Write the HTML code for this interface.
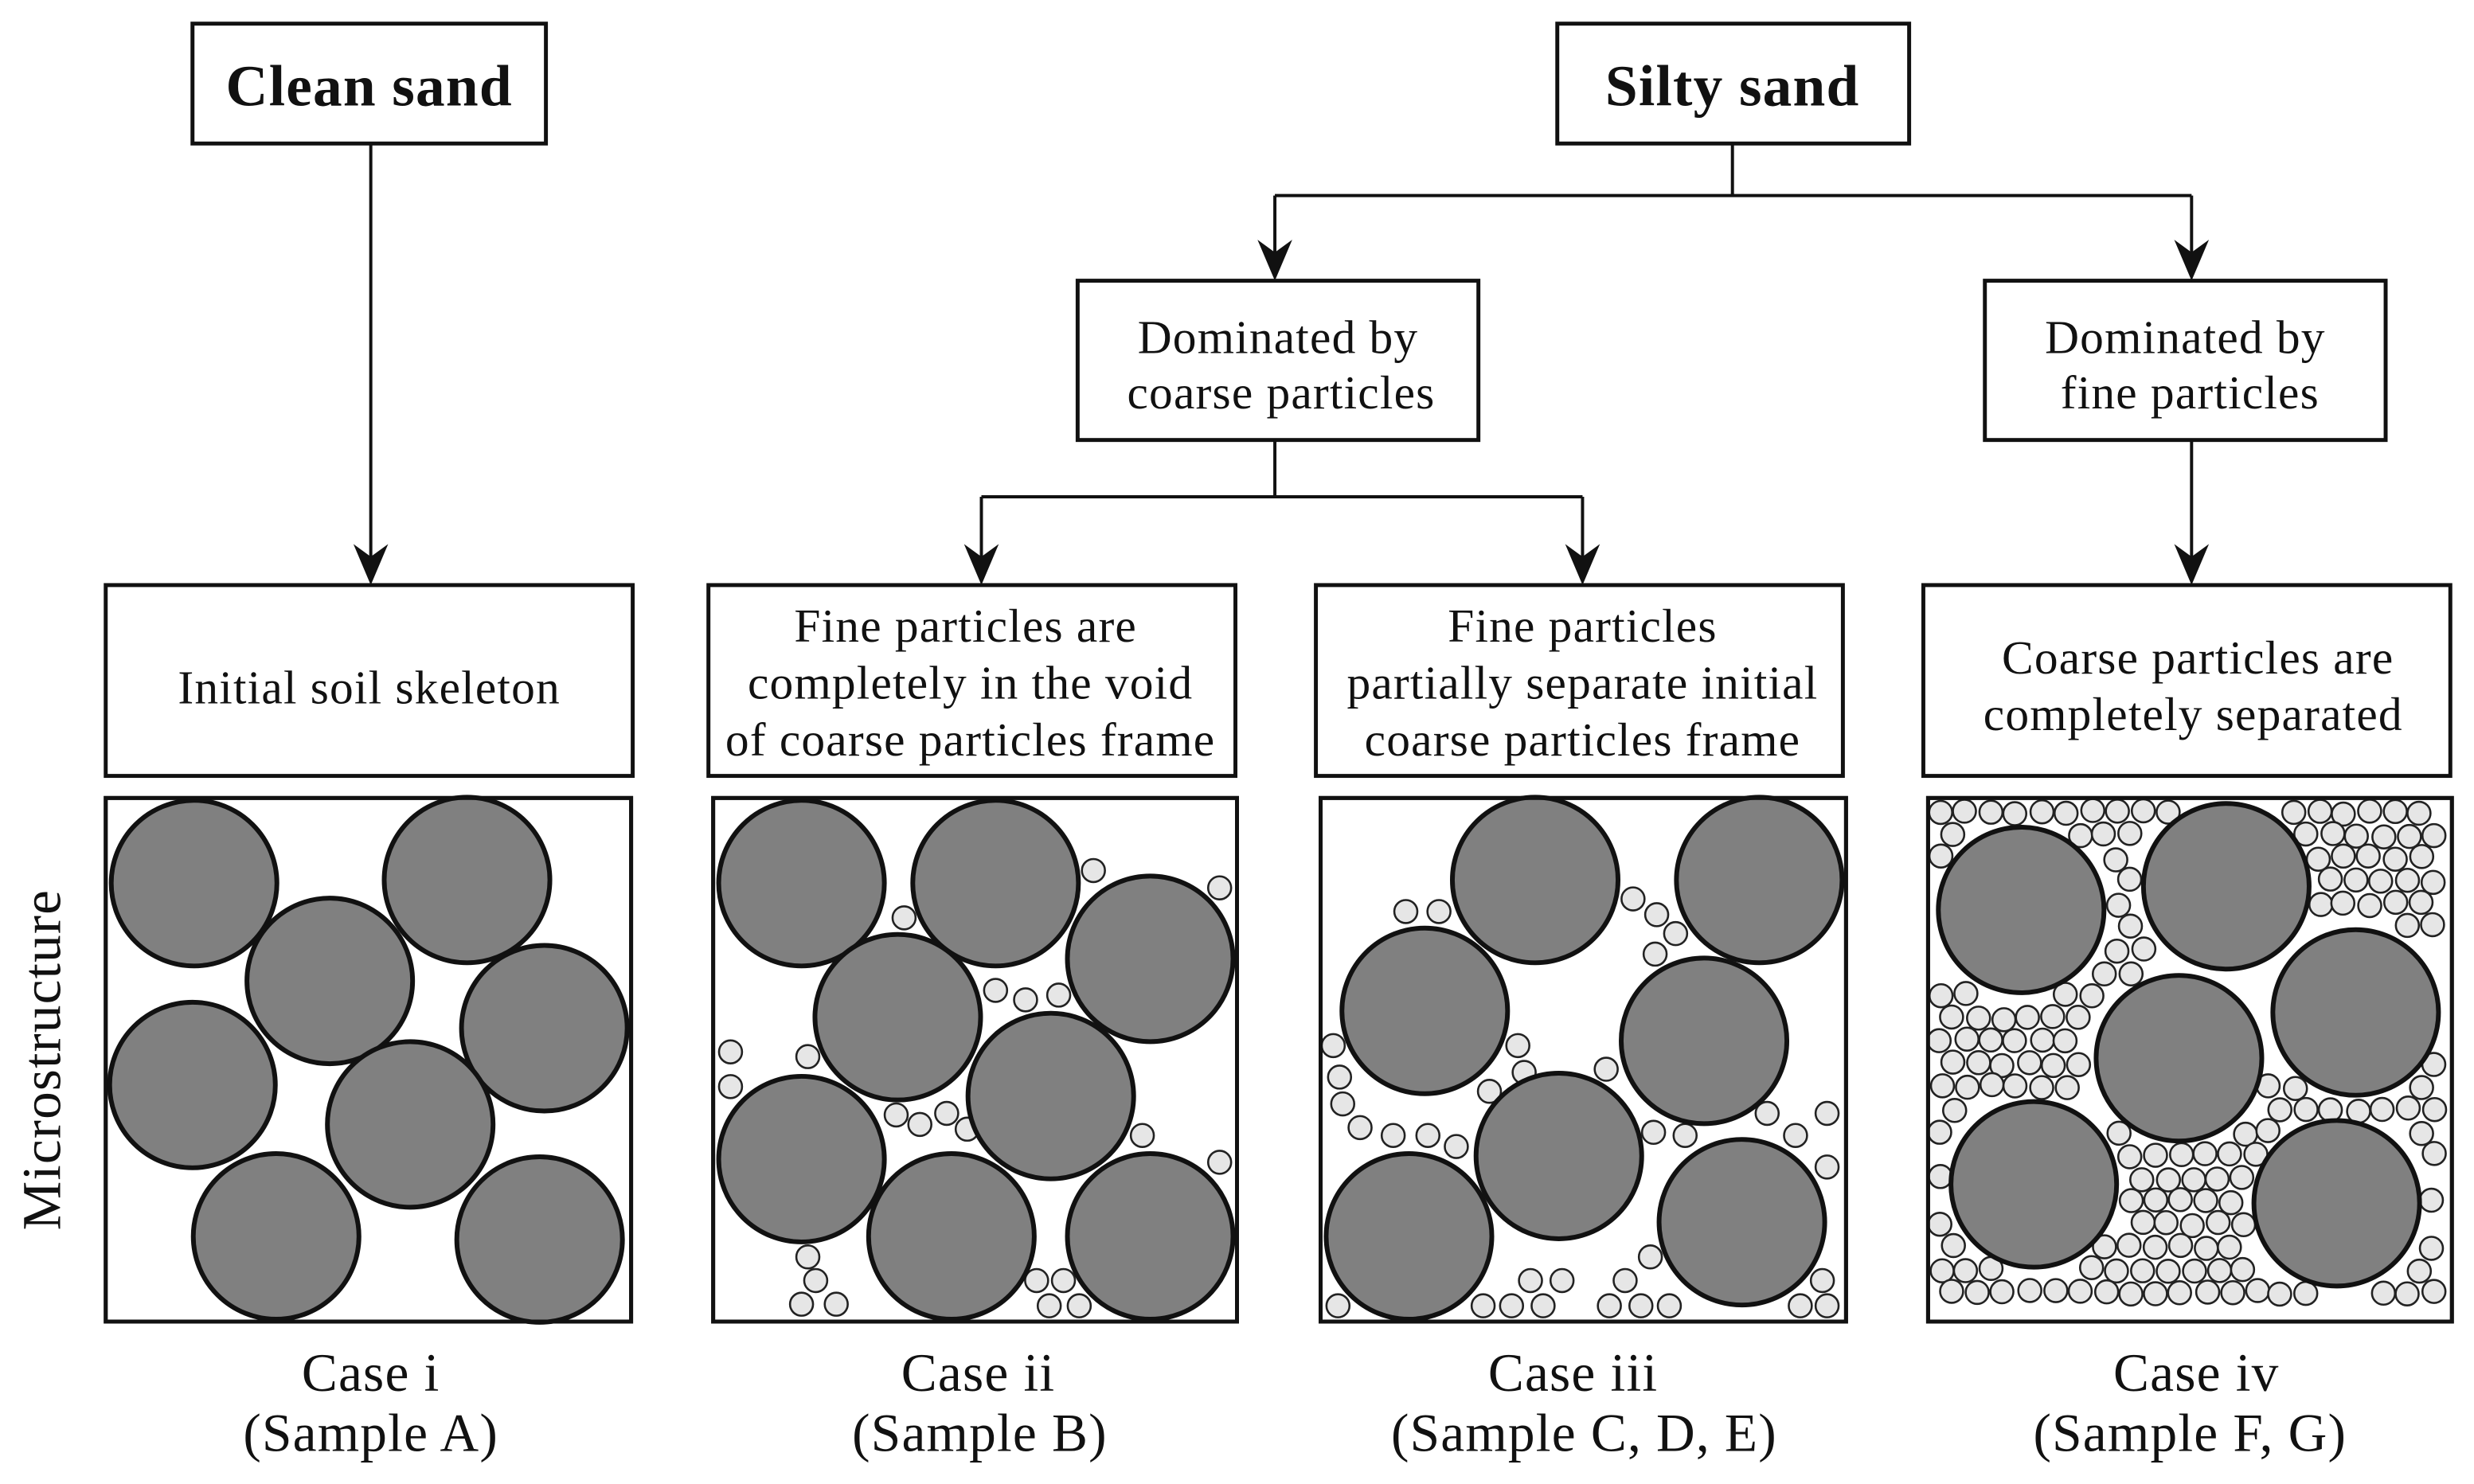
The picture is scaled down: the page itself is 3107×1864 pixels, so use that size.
<!DOCTYPE html>
<html><head><meta charset="utf-8"><style>
html,body{margin:0;padding:0;background:#fff}
svg{display:block}
text{font-family:"Liberation Serif",serif;fill:#111}
</style></head><body>
<svg id="s" width="3107" height="1864" viewBox="0 0 1568 941" preserveAspectRatio="none" xmlns="http://www.w3.org/2000/svg">
<rect x="0" y="0" width="1568" height="941" fill="#fff"/>
<g fill="none" stroke="#111" stroke-width="2.5">
<rect x="122" y="15" width="224" height="76"/>
<rect x="987" y="15" width="223" height="76"/>
<rect x="683" y="178" width="254" height="101"/>
<rect x="1258" y="178" width="254" height="101"/>
<rect x="67" y="371" width="334" height="121"/>
<rect x="449" y="371" width="334" height="121"/>
<rect x="834" y="371" width="334" height="121"/>
<rect x="1219" y="371" width="334" height="121"/>
</g>
<g stroke="#111" stroke-width="2" fill="none">
<line x1="235" y1="91" x2="235" y2="360"/>
<polyline points="1098,91 1098,124"/>
<line x1="808" y1="124" x2="1389" y2="124"/>
<line x1="808" y1="124" x2="808" y2="168"/>
<line x1="1389" y1="124" x2="1389" y2="168"/>
<polyline points="808,279 808,315"/>
<line x1="622" y1="315" x2="1003" y2="315"/>
<line x1="622" y1="315" x2="622" y2="360"/>
<line x1="1003" y1="315" x2="1003" y2="360"/>
<line x1="1389" y1="279" x2="1389" y2="360"/>
</g>
<g fill="#111">
<polygon points="235,371 224,345 235,353 246,345"/>
<polygon points="808,178 797,152 808,160 819,152"/>
<polygon points="1389,178 1378,152 1389,160 1400,152"/>
<polygon points="622,371 611,345 622,353 633,345"/>
<polygon points="1003,371 992,345 1003,353 1014,345"/>
<polygon points="1389,371 1378,345 1389,353 1400,345"/>
</g>
<g font-size="37" font-weight="bold" text-anchor="middle" letter-spacing="0.6">
<text x="234" y="67">Clean sand</text>
<text x="1098" y="67">Silty sand</text>
</g>
<g font-size="30" text-anchor="middle" letter-spacing="0.6">
<text x="810" y="224">Dominated by</text><text x="812" y="259">coarse particles</text>
<text x="1385" y="224">Dominated by</text><text x="1388" y="259">fine particles</text>
<text x="234" y="446">Initial soil skeleton</text>
<text x="612" y="407">Fine particles are</text><text x="615" y="443">completely in the void</text><text x="615" y="479">of coarse particles frame</text>
<text x="1003" y="407">Fine particles</text><text x="1003" y="443">partially separate initial</text><text x="1003" y="479">coarse particles frame</text>
<text x="1393" y="427">Coarse particles are</text><text x="1390" y="463">completely separated</text>
</g>
<g font-size="34" text-anchor="middle" letter-spacing="0.6">
<text x="235" y="882">Case i</text><text x="235" y="920">(Sample A)</text>
<text x="620" y="882">Case ii</text><text x="621" y="920">(Sample B)</text>
<text x="997" y="882">Case iii</text><text x="1004" y="920">(Sample C, D, E)</text>
<text x="1392" y="882">Case  iv</text><text x="1388" y="920">(Sample F, G)</text>
</g>
<text font-size="35" text-anchor="middle" letter-spacing="0.6" transform="translate(38,672) rotate(-90)">Microstructure</text>
<g id="g"></g>
</svg>
<script>
var NS="http://www.w3.org/2000/svg",g=document.getElementById("g");
function el(t,a){var e=document.createElementNS(NS,t);for(var k in a)e.setAttribute(k,a[k]);g.appendChild(e);}
var boxes=[[67,506,333,332],[452,506,332,332],[837,506,333,332],[1222,506,332,332]];
var big=[
[[123,560],[296,558],[209,622],[345,652],[122,688],[260,713],[175,784],[342,786]],
[[508,560],[631,560],[729,608],[569,645],[666,695],[508,735],[603,784],[729,784]],
[[973,558],[1115,558],[903,641],[1080,660],[988,733],[893,784],[1104,775]],
[[1281,577],[1411,562],[1493,642],[1381,671],[1289,751],[1481,763]]];
var small=[
[],
[[573,582],[693,552],[773,563],[631,628],[650,634],[671,631],[463,667],[463,689],[512,670],[568,707],[583,713],[600,706],[724,720],[773,737],[512,797],[508,827],[530,827],[517,812],[657,812],[674,812],[665,828],[684,828],[613,716]],
[[891,578],[912,578],[1035,570],[1050,580],[1062,592],[1049,605],[845,663],[849,683],[851,700],[862,715],[962,663],[966,680],[944,692],[883,720],[905,720],[923,727],[1018,678],[1048,718],[1068,720],[1120,706],[1138,720],[1158,706],[1158,740],[848,828],[940,828],[958,828],[978,828],[970,812],[990,812],[1020,828],[1040,828],[1058,828],[1030,812],[1046,797],[1141,828],[1158,828],[1155,812]]];
var s4=[],seed=7;function rnd(){seed=(seed*9301+49297)%233280;return seed/233280;}
for(var row=0;;row++){var y=515+row*14.5;if(y>831)break;
 for(var x=1230+(row%2)*8;x<=1547;x+=16){
  var px=x+(rnd()-0.5)*2.5,py=y+(rnd()-0.5)*2.5,ok=true;
  big[3].forEach(function(c){if(Math.hypot(px-c[0],py-c[1])<59)ok=false;});
  if(ok)s4.push([px,py]);}}
small.push(s4);
boxes.forEach(function(b,i){
 el("rect",{x:b[0],y:b[1],width:b[2],height:b[3],fill:"#fff",stroke:"#111","stroke-width":2.5});
 small[i].forEach(function(c){el("circle",{cx:c[0],cy:c[1],r:7.3,fill:"#e6e6e6",stroke:"#222","stroke-width":1.3});});
 big[i].forEach(function(c){el("circle",{cx:c[0],cy:c[1],r:52.5,fill:"#808080",stroke:"#111","stroke-width":3});});
 el("rect",{x:b[0],y:b[1],width:b[2],height:b[3],fill:"none",stroke:"#111","stroke-width":2.5});
});
</script>
</body></html>
